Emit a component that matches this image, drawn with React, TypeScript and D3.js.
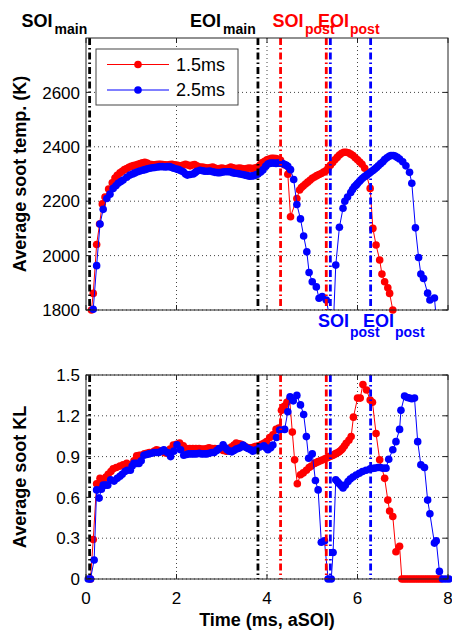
import React from "react";
import * as d3 from "d3";

// ---------- data (time ms aSOI, value) ----------
const temp15: [number, number][] = [
  [0.12,1800],[0.16,1861],[0.235,2041],[0.30,2116],[0.36,2190],[0.42,2215],[0.50,2245],[0.58,2268],[0.64,2285],[0.69,2295],[0.75,2304],[0.80,2310],[0.85,2316],[0.90,2320],[0.95,2325],[1.00,2328],[1.05,2331],[1.10,2333],[1.15,2336],[1.20,2338],[1.25,2341],[1.30,2343],[1.35,2340],[1.40,2336],[1.45,2335],[1.50,2334],[1.55,2335],[1.60,2336],[1.65,2336],[1.70,2335],[1.75,2334],[1.80,2333],[1.85,2335],[1.90,2336],[1.95,2334],[2.00,2333],[2.05,2331],[2.10,2330],[2.15,2333],[2.20,2336],[2.25,2333],[2.30,2330],[2.35,2333],[2.40,2335],[2.45,2330],[2.50,2326],[2.55,2326],[2.60,2325],[2.65,2323],[2.70,2322],[2.75,2324],[2.80,2326],[2.85,2322],[2.90,2318],[2.95,2320],[3.00,2322],[3.05,2320],[3.10,2318],[3.15,2322],[3.20,2326],[3.25,2323],[3.30,2320],[3.35,2321],[3.40,2322],[3.45,2320],[3.50,2318],[3.55,2320],[3.60,2322],[3.65,2321],[3.70,2320],[3.75,2323],[3.80,2326],[3.85,2334],[3.90,2342],[3.95,2347],[4.00,2352],[4.05,2355],[4.10,2358],[4.15,2358],[4.20,2357],[4.25,2354],[4.30,2350],[4.39,2333],[4.46,2299],[4.52,2143],[4.66,2210],[4.72,2241],[4.76,2250],[4.80,2256],[4.85,2263],[4.90,2270],[4.95,2277],[5.00,2284],[5.05,2289],[5.10,2294],[5.15,2298],[5.20,2302],[5.25,2307],[5.30,2312],[5.35,2322],[5.40,2332],[5.45,2342],[5.50,2352],[5.55,2361],[5.60,2370],[5.65,2376],[5.70,2380],[5.75,2380],[5.80,2378],[5.85,2373],[5.90,2368],[5.95,2360],[6.00,2352],[6.05,2344],[6.10,2336],[6.16,2321],[6.28,2247],[6.34,2100],[6.41,2039],[6.49,1984],[6.54,1932],[6.60,1904],[6.67,1882],[6.71,1861],[6.78,1800]
];
const temp25: [number, number][] = [
  [0.16,1803],[0.235,1963],[0.31,2116],[0.38,2170],[0.46,2210],[0.53,2226],[0.60,2247],[0.66,2257],[0.71,2266],[0.77,2272],[0.82,2278],[0.90,2288],[0.97,2296],[1.03,2300],[1.08,2304],[1.14,2308],[1.19,2311],[1.25,2314],[1.30,2316],[1.36,2319],[1.41,2321],[1.47,2323],[1.52,2324],[1.58,2326],[1.63,2327],[1.69,2327],[1.75,2326],[1.80,2327],[1.85,2327],[1.90,2324],[1.94,2321],[2.00,2318],[2.05,2316],[2.10,2312],[2.15,2308],[2.20,2300],[2.24,2296],[2.30,2298],[2.37,2300],[2.41,2305],[2.45,2310],[2.52,2314],[2.58,2312],[2.63,2310],[2.69,2310],[2.74,2311],[2.80,2308],[2.85,2306],[2.91,2305],[2.96,2305],[3.02,2307],[3.07,2308],[3.13,2308],[3.18,2308],[3.24,2305],[3.29,2303],[3.35,2302],[3.40,2300],[3.46,2298],[3.51,2296],[3.57,2294],[3.62,2292],[3.67,2293],[3.71,2294],[3.76,2297],[3.80,2300],[3.86,2307],[3.91,2315],[3.97,2328],[4.02,2337],[4.06,2339],[4.10,2340],[4.15,2340],[4.20,2339],[4.24,2340],[4.28,2340],[4.33,2339],[4.37,2337],[4.42,2333],[4.46,2328],[4.52,2316],[4.59,2280],[4.66,2188],[4.74,2135],[4.81,2072],[4.88,2014],[4.93,1938],[5.00,1904],[5.09,1885],[5.15,1843],[5.22,1849],[5.31,1837],[5.40,1760],[5.47,1760],[5.52,1965],[5.60,2104],[5.68,2174],[5.72,2200],[5.78,2215],[5.85,2232],[5.89,2243],[5.93,2253],[5.97,2259],[6.00,2265],[6.04,2272],[6.07,2278],[6.11,2284],[6.15,2290],[6.19,2294],[6.22,2298],[6.26,2303],[6.30,2308],[6.34,2313],[6.38,2318],[6.42,2324],[6.46,2330],[6.51,2338],[6.56,2345],[6.60,2353],[6.65,2360],[6.70,2365],[6.74,2368],[6.79,2368],[6.83,2366],[6.88,2361],[6.93,2355],[7.00,2345],[7.07,2330],[7.15,2306],[7.20,2266],[7.28,2102],[7.35,1993],[7.40,1932],[7.46,1916],[7.55,1862],[7.60,1837],[7.70,1844],[7.78,1700]
];
const kl15: [number, number][] = [
  [0.10,0],[0.16,0.29],[0.235,0.70],[0.31,0.74],[0.38,0.72],[0.44,0.75],[0.49,0.77],[0.55,0.79],[0.60,0.81],[0.67,0.82],[0.75,0.83],[0.82,0.84],[0.90,0.85],[0.95,0.84],[1.00,0.83],[1.06,0.87],[1.12,0.905],[1.18,0.91],[1.23,0.91],[1.29,0.92],[1.34,0.925],[1.40,0.93],[1.45,0.93],[1.51,0.94],[1.56,0.95],[1.62,0.945],[1.67,0.94],[1.73,0.93],[1.78,0.925],[1.86,0.955],[1.93,0.985],[2.00,0.99],[2.07,1.0],[2.15,0.98],[2.22,0.96],[2.29,0.96],[2.36,0.96],[2.43,0.96],[2.50,0.96],[2.56,0.955],[2.61,0.955],[2.67,0.96],[2.72,0.965],[2.79,0.96],[2.85,0.96],[2.91,0.955],[2.96,0.955],[3.03,0.945],[3.10,0.94],[3.16,0.955],[3.21,0.97],[3.27,0.985],[3.32,1.0],[3.38,0.995],[3.43,0.99],[3.49,0.98],[3.54,0.97],[3.60,0.965],[3.65,0.965],[3.71,0.97],[3.76,0.975],[3.82,0.98],[3.88,0.99],[3.94,1.0],[3.99,1.01],[4.06,1.04],[4.13,1.06],[4.20,1.10],[4.26,1.11],[4.32,1.24],[4.38,1.27],[4.44,1.30],[4.50,1.32],[4.56,1.08],[4.61,0.876],[4.67,0.70],[4.74,0.766],[4.80,0.78],[4.87,0.80],[4.93,0.82],[4.98,0.83],[5.05,0.85],[5.09,0.857],[5.13,0.863],[5.18,0.87],[5.22,0.875],[5.27,0.882],[5.31,0.888],[5.35,0.895],[5.38,0.90],[5.42,0.905],[5.46,0.91],[5.50,0.918],[5.53,0.925],[5.57,0.93],[5.60,0.937],[5.64,0.948],[5.67,0.96],[5.71,0.978],[5.75,0.998],[5.81,1.02],[5.86,1.047],[5.91,1.19],[6.00,1.33],[6.06,1.33],[6.12,1.43],[6.20,1.39],[6.28,1.316],[6.33,1.30],[6.41,1.07],[6.49,0.876],[6.60,0.74],[6.67,0.58],[6.71,0.50],[6.78,0.46],[6.85,0.20],[6.93,0.24],[6.98,0],[7.03,0],[7.08,0],[7.13,0],[7.18,0],[7.23,0],[7.28,0],[7.33,0],[7.38,0],[7.43,0],[7.48,0],[7.53,0],[7.58,0],[7.63,0],[7.68,0],[7.73,0],[7.78,0],[7.83,0]
];
const kl25: [number, number][] = [
  [0.05,0],[0.10,0],[0.18,0.14],[0.235,0.655],[0.29,0.595],[0.34,0.66],[0.38,0.69],[0.43,0.69],[0.48,0.69],[0.545,0.73],[0.62,0.72],[0.69,0.74],[0.75,0.755],[0.80,0.77],[0.86,0.79],[0.91,0.80],[0.98,0.80],[1.02,0.83],[1.06,0.85],[1.12,0.85],[1.17,0.85],[1.22,0.87],[1.28,0.91],[1.34,0.915],[1.39,0.92],[1.45,0.925],[1.50,0.93],[1.56,0.93],[1.61,0.93],[1.67,0.94],[1.72,0.95],[1.80,0.93],[1.87,0.90],[1.94,0.94],[2.01,0.986],[2.09,0.95],[2.16,0.91],[2.22,0.915],[2.27,0.92],[2.33,0.92],[2.38,0.92],[2.44,0.92],[2.50,0.925],[2.55,0.92],[2.61,0.92],[2.67,0.92],[2.72,0.925],[2.78,0.93],[2.83,0.93],[2.89,0.945],[2.94,0.96],[3.03,0.986],[3.08,0.965],[3.12,0.95],[3.17,0.94],[3.22,0.935],[3.27,0.945],[3.32,0.955],[3.36,0.96],[3.40,0.965],[3.47,0.985],[3.52,0.97],[3.58,0.96],[3.64,0.95],[3.69,0.94],[3.76,0.95],[3.84,0.97],[3.93,0.98],[3.98,0.965],[4.02,0.95],[4.08,0.965],[4.13,0.985],[4.21,1.04],[4.28,1.096],[4.39,1.10],[4.46,1.23],[4.51,1.34],[4.58,1.31],[4.66,1.35],[4.74,1.28],[4.81,1.21],[4.87,1.047],[4.92,0.888],[5.00,0.92],[5.07,0.724],[5.13,0.655],[5.20,0.27],[5.27,0.28],[5.35,0],[5.42,0],[5.46,0.195],[5.52,0.73],[5.56,0.715],[5.60,0.70],[5.64,0.685],[5.68,0.67],[5.73,0.69],[5.79,0.717],[5.84,0.735],[5.90,0.75],[5.97,0.765],[6.04,0.778],[6.11,0.79],[6.19,0.80],[6.28,0.81],[6.33,0.813],[6.38,0.815],[6.45,0.82],[6.50,0.82],[6.56,0.815],[6.63,0.815],[6.69,0.88],[6.78,0.95],[6.85,1.01],[6.93,1.10],[6.96,1.24],[7.04,1.345],[7.10,1.335],[7.15,1.33],[7.20,1.325],[7.26,1.33],[7.33,1.01],[7.40,0.84],[7.48,0.82],[7.55,0.58],[7.60,0.48],[7.70,0.264],[7.74,0.28],[7.81,0.056],[7.88,0],[7.95,0],[8.02,0]
];

const injMain = [0.08, 3.8];
const inj15 = [4.3, 5.31];
const inj25 = [5.4, 6.29];

const xTicks = [0, 2, 4, 6, 8];
const tempTicks = [1800, 2000, 2200, 2400, 2600];
const klTicks = [0, 0.3, 0.6, 0.9, 1.2, 1.5];
const seriesNames = ["1.5ms", "2.5ms"];

const RED = "#ff0000";
const BLUE = "#0000ff";
const FONT = "'Liberation Sans', Arial, Helvetica, sans-serif";

const L = 86, R = 448;
const T1 = 38, B1 = 310;
const T2 = 375, B2 = 579;

const x = d3.scaleLinear().domain([0, 8]).range([L, R]);
const yT = d3.scaleLinear().domain([1800, 2800]).range([B1, T1]);
const yK = d3.scaleLinear().domain([0, 1.5]).range([B2, T2]);

function Panel({ y, ticks, fmt, top, bottom, s1, s2, id, showX }: any) {
  const [d0, d1] = y.domain();
  const line = d3.line<[number, number]>().x(d => x(d[0])).y(d => y(d[1]));
  const inRange = (d: [number, number]) => d[1] >= d0 - 1e-9 && d[1] <= d1 + 1e-9;
  const dash = "7,3,1.5,3";
  const vlines: [number, string][] = [
    ...injMain.map(v => [v, "#000"] as [number, string]),
    ...inj15.map(v => [v, RED] as [number, string]),
    ...inj25.map(v => [v, BLUE] as [number, string]),
  ];
  return (
    <g>
      <defs>
        <clipPath id={id}>
          <rect x={L} y={top} width={R - L} height={bottom - top} />
        </clipPath>
      </defs>
      <rect x={L} y={top} width={R - L} height={bottom - top} fill="#fff" />
      {ticks.map((t: number) => (
        <line key={"gy" + t} x1={L} x2={R} y1={y(t)} y2={y(t)} stroke="#444" strokeWidth={1} strokeDasharray="1,3" />
      ))}
      {xTicks.slice(1, -1).map(t => (
        <line key={"gx" + t} x1={x(t)} x2={x(t)} y1={top} y2={bottom} stroke="#444" strokeWidth={1} strokeDasharray="1,3" />
      ))}
      {[[s1, RED], [s2, BLUE]].map(([s, c]: any, i) => (
        <g key={"s" + i}>
          <path d={line(s) || ""} fill="none" stroke={c} strokeWidth={1} clipPath={`url(#${id})`} />
          {s.filter(inRange).map((d: [number, number], j: number) => (
            <circle key={j} cx={x(d[0])} cy={y(d[1])} r={3.8} fill={c} />
          ))}
        </g>
      ))}
      {vlines.map(([v, c], i) => (
        <line key={"v" + i} x1={x(v)} x2={x(v)} y1={top} y2={bottom} stroke={c} strokeWidth={2.8} strokeDasharray={dash} />
      ))}
      <rect x={L} y={top} width={R - L} height={bottom - top} fill="none" stroke="#222" strokeWidth={1} />
      {ticks.map((t: number) => (
        <g key={"ty" + t}>
          <line x1={L} x2={L + 5} y1={y(t)} y2={y(t)} stroke="#222" />
          <line x1={R - 5} x2={R} y1={y(t)} y2={y(t)} stroke="#222" />
          <text x={L - 6} y={y(t)} dy="0.36em" textAnchor="end" fontSize={17} fontFamily={FONT} fill="#000">{fmt(t)}</text>
        </g>
      ))}
      {xTicks.map(t => (
        <g key={"tx" + t}>
          <line x1={x(t)} x2={x(t)} y1={bottom} y2={bottom - 5} stroke="#222" />
          <line x1={x(t)} x2={x(t)} y1={top} y2={top + 5} stroke="#222" />
          {showX && (
            <text x={x(t)} y={bottom + 25} textAnchor="middle" fontSize={17} fontFamily={FONT} fill="#000">{t}</text>
          )}
        </g>
      ))}
    </g>
  );
}

export default function App() {
  const lblStyle = { fontFamily: FONT, fontWeight: 700 } as any;
  return (
    <svg width={452} height={632} style={{ position: "absolute", left: 0, top: 0, background: "#fff" }}>
      <rect width={452} height={632} fill="#fff" />
      <Panel y={yT} ticks={tempTicks} fmt={(t: number) => String(t)} top={T1} bottom={B1} s1={temp15} s2={temp25} id="clipTop" showX={false} />
      <Panel y={yK} ticks={klTicks} fmt={(t: number) => (t === 0 ? "0" : d3.format(".1f")(t))} top={T2} bottom={B2} s1={kl15} s2={kl25} id="clipBot" showX={true} />

      <g>
        <rect x={96} y={49} width={142} height={56} fill="#fff" stroke="#444" strokeWidth={1} />
        {seriesNames.map((n, i) => {
          const c = i === 0 ? RED : BLUE;
          const yy = 64.5 + i * 25.5;
          return (
            <g key={n}>
              <line x1={107} x2={169} y1={yy} y2={yy} stroke={c} strokeWidth={1} />
              <circle cx={138} cy={yy} r={3.8} fill={c} />
              <text x={176} y={yy} dy="0.36em" fontSize={18} fontFamily={FONT} fill="#000">{n}</text>
            </g>
          );
        })}
      </g>

      <text transform={`translate(26,${(T1 + B1) / 2}) rotate(-90)`} textAnchor="middle" fontSize={18} style={lblStyle}>Average soot temp. (K)</text>
      <text transform={`translate(26,${(T2 + B2) / 2}) rotate(-90)`} textAnchor="middle" fontSize={18} style={lblStyle}>Average soot KL</text>
      <text x={(L + R) / 2} y={626} textAnchor="middle" fontSize={18} style={lblStyle}>Time (ms, aSOI)</text>

      <text x={21.5} y={27} fontSize={18} style={lblStyle} fill="#000">SOI<tspan dx={2} dy={7} fontSize={14}>main</tspan></text>
      <text x={190} y={27} fontSize={18} style={lblStyle} fill="#000">EOI<tspan dx={2} dy={7} fontSize={14}>main</tspan></text>

      <text x={272.5} y={27} fontSize={18} style={lblStyle} fill={RED}>SOI</text>
      <text x={305} y={34} fontSize={14} style={lblStyle} fill={RED}>post</text>
      <text x={318} y={27} fontSize={18} style={lblStyle} fill={RED}>EOI</text>
      <text x={350} y={34} fontSize={14} style={lblStyle} fill={RED}>post</text>

      <text x={318} y={327} fontSize={18} style={lblStyle} fill={BLUE}>SOI</text>
      <text x={350} y={337} fontSize={14} style={lblStyle} fill={BLUE}>post</text>
      <text x={363} y={327} fontSize={18} style={lblStyle} fill={BLUE}>EOI</text>
      <text x={395} y={337} fontSize={14} style={lblStyle} fill={BLUE}>post</text>
    </svg>
  );
}
